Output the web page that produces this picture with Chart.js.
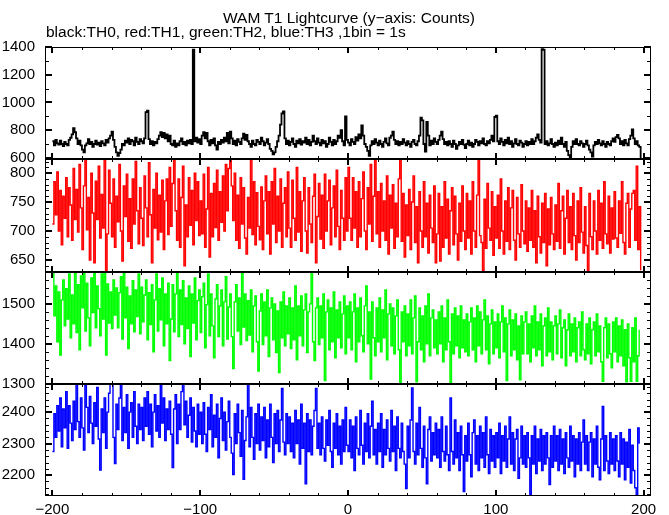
<!DOCTYPE html>
<html>
<head>
<meta charset="utf-8">
<script src="https://cdn.jsdelivr.net/npm/chart.js@4.4.1/dist/chart.umd.min.js"></script>
<style>
  body { margin: 0; background: #fff; }
  #wrap { position: relative; width: 669px; height: 515px; }
  .txt { position: absolute; font-family: "Liberation Sans", Arial, sans-serif; font-size: 15.5px; line-height: 15.5px; white-space: nowrap; color: #000; }
</style>
</head>
<body>
<div id="wrap">
  <canvas id="lightcurve" width="669" height="515"></canvas>
  <div class="txt" style="left:349px; top:10px; transform:translateX(-50%);">WAM T1 Lightcurve (y−axis: Counts)</div>
  <div class="txt" style="left:46px; top:23.5px;">black:TH0, red:TH1, green:TH2, blue:TH3 ,1bin = 1s</div>
</div>
<script>
// 1bin = 1s, first bin at t = -200 s
const binStart = -200;

// counts per bin (rows of 20 bins)
const countsTH0 = [
  720,690,730,705,695,725,700,685,715,700,690,730,745,770,815,785,740,700,725,690, // -200
  660,640,690,705,735,700,715,680,700,725,695,710,685,720,705,690,730,710,740,760, // -180
  790,730,680,640,615,635,660,700,690,725,710,740,700,730,720,690,745,715,700,735, // -160
  720,705,740,930,940,735,700,720,690,715,705,735,760,785,750,780,740,770,720,760, // -140
  700,690,725,680,705,690,720,740,700,715,690,725,705,730,700,1380,720,745,710,735, // -120
  700,760,785,740,780,720,690,730,705,740,690,660,715,700,730,710,745,720,780,705, // -100
  790,740,700,725,690,735,715,700,740,775,730,765,720,700,680,725,700,690,730,715, // -80
  700,745,720,690,710,735,700,665,650,625,640,680,720,760,840,920,935,740,700,725, // -60
  690,715,740,700,680,725,705,735,695,720,710,745,700,730,690,715,760,720,700,740, // -40
  710,690,730,705,720,680,700,745,715,690,730,700,720,760,745,800,720,690,900,730, // -20
  710,690,735,715,700,750,725,770,740,835,760,700,680,650,615,690,720,700,735,710, // 0
  690,725,700,680,715,740,705,690,745,760,790,730,700,720,690,715,700,735,710,690, // 20
  720,700,680,715,730,700,690,720,760,890,870,700,645,860,760,690,725,700,740,715, // 40
  700,730,760,790,735,700,715,690,720,700,680,725,700,665,690,715,700,730,695,670, // 60
  700,725,690,710,680,700,730,715,690,720,705,740,700,690,720,705,730,760,720,895, // 80
  905,720,700,740,715,690,730,705,745,700,720,680,705,735,700,690,725,710,680,700, // 100
  720,690,715,700,735,700,720,745,770,730,710,1385,1380,700,720,690,705,735,700,680, // 120
  710,690,725,700,745,700,680,715,650,620,605,680,720,700,735,700,690,720,705,680, // 140
  700,725,690,660,640,610,690,715,700,730,705,690,720,700,680,715,700,690,720,740, // 160
  715,750,765,740,700,720,690,730,705,690,735,760,805,740,700,720,690,680,598       // 180
];

const countsTH1 = [
  712,785,728,802,700,770,676,760,722,792,690,775,745,684,808,720,772,698,815,740,
  668,778,824,702,758,650,800,731,645,786,720,812,688,763,705,824,632,695,805,748,
  690,790,672,760,716,815,700,648,778,725,798,682,756,670,790,712,820,735,678,775,
  722,675,795,740,690,818,728,645,772,705,800,685,762,698,788,668,752,790,694,810,
  708,782,824,735,684,790,672,758,812,640,745,690,792,710,770,676,800,718,785,692,
  752,695,798,672,738,810,655,765,690,782,706,805,684,768,715,795,700,815,735,808,
  824,778,718,800,684,762,670,792,712,775,688,660,758,705,824,694,785,676,766,708,
  685,776,668,752,795,695,768,660,785,712,808,680,760,700,790,672,748,775,690,802,
  705,672,788,722,684,810,698,768,665,752,792,700,662,775,712,680,760,798,645,725,
  782,686,762,670,798,700,752,788,676,740,778,690,805,708,668,770,722,684,792,700,
  810,722,684,792,705,768,672,785,690,756,802,700,668,775,712,815,682,760,824,695,
  768,672,782,700,752,684,795,660,762,705,780,670,748,690,790,824,682,765,655,745,
  692,772,668,750,795,680,742,645,768,700,672,785,690,748,662,762,705,680,778,645,
  695,765,648,742,672,785,688,755,660,735,775,676,760,695,650,748,682,778,700,668,
  765,688,752,660,785,700,672,762,824,692,680,632,755,670,782,705,684,768,658,742,
  688,762,670,790,700,660,752,682,775,668,740,770,684,650,758,695,672,780,700,678,
  752,665,740,684,770,672,735,645,760,690,662,748,680,765,640,738,676,758,695,668,
  745,682,782,670,735,760,660,722,770,680,742,668,765,692,650,752,680,775,698,662,
  742,675,632,765,690,668,752,700,660,770,684,748,670,785,695,678,760,662,740,686,
  768,688,672,752,696,785,680,660,748,765,672,738,765,770,684,812,668,742,632
];

const countsTH2 = [
  1578,1470,1545,1405,1530,1372,1510,1560,1445,1538,1462,1575,1415,1522,1450,1578,1428,1548,1385,1570,
  1490,1578,1432,1552,1465,1395,1565,1478,1578,1440,1545,1488,1420,1575,1462,1578,1372,1550,1452,1530,
  1438,1560,1472,1540,1440,1528,1568,1412,1578,1465,1542,1388,1520,1450,1558,1430,1535,1468,1575,1425,
  1542,1455,1522,1560,1410,1528,1448,1548,1380,1510,1575,1432,1538,1460,1565,1395,1525,1450,1552,1358,
  1462,1548,1430,1525,1578,1418,1535,1448,1558,1400,1515,1438,1545,1368,1525,1452,1565,1410,1508,1535,
  1428,1518,1552,1390,1498,1575,1420,1525,1445,1365,1512,1548,1418,1495,1535,1395,1505,1568,1412,1492,
  1525,1418,1338,1505,1548,1432,1515,1398,1578,1442,1525,1408,1508,1422,1535,1380,1495,1520,1405,1332,
  1482,1525,1398,1505,1420,1535,1368,1490,1515,1410,1500,1378,1482,1328,1505,1415,1530,1395,1495,1425,
  1515,1388,1490,1410,1545,1360,1495,1420,1520,1395,1485,1525,1378,1480,1500,1578,1405,1358,1490,1515,
  1398,1495,1415,1525,1308,1480,1510,1385,1490,1405,1530,1365,1485,1415,1505,1390,1475,1520,1375,1495,
  1415,1505,1385,1480,1525,1355,1490,1405,1515,1420,1380,1495,1545,1400,1480,1312,1505,1415,1370,1490,
  1405,1515,1380,1485,1415,1535,1360,1475,1500,1395,1490,1375,1470,1510,1385,1302,1480,1405,1495,1370,
  1475,1395,1510,1375,1465,1520,1305,1405,1490,1385,1470,1355,1495,1400,1525,1370,1465,1485,1390,1460,
  1375,1480,1400,1495,1355,1465,1385,1510,1405,1302,1475,1375,1490,1395,1470,1365,1495,1390,1460,1380,
  1475,1370,1455,1490,1385,1465,1355,1495,1395,1480,1375,1460,1510,1385,1470,1350,1450,1485,1375,1455,
  1390,1475,1365,1455,1495,1380,1465,1308,1450,1485,1370,1460,1385,1475,1360,1445,1310,1470,1375,1455,
  1480,1375,1450,1355,1470,1390,1495,1370,1455,1385,1475,1345,1445,1465,1370,1490,1380,1455,1360,1445,
  1470,1375,1450,1485,1365,1440,1460,1345,1435,1475,1370,1450,1380,1465,1355,1440,1455,1370,1480,1385,
  1360,1450,1375,1465,1350,1435,1455,1370,1475,1380,1445,1355,1306,1440,1465,1365,1450,1375,1340,1455,
  1380,1465,1355,1445,1370,1460,1345,1435,1305,1450,1365,1306,1440,1355,1465,1306,1370,1435
];

const countsTH3 = [
  2275,2395,2320,2420,2340,2445,2290,2410,2350,2465,2285,2420,2365,2310,2435,2345,2490,2370,2320,2445,
  2350,2280,2490,2415,2335,2450,2365,2300,2430,2355,2478,2315,2216,2410,2335,2445,2285,2400,2460,2490,
  2490,2320,2237,2425,2345,2445,2490,2310,2415,2335,2455,2285,2400,2430,2320,2465,2355,2300,2425,2345,
  2415,2310,2445,2355,2465,2330,2425,2290,2400,2455,2340,2420,2320,2490,2365,2445,2310,2410,2345,2435,
  2330,2224,2410,2455,2300,2425,2345,2465,2490,2360,2435,2320,2390,2445,2305,2415,2340,2290,2425,2330,
  2400,2300,2430,2330,2275,2415,2345,2455,2290,2390,2320,2425,2255,2380,2445,2310,2400,2280,2370,2435,
  2320,2270,2202,2395,2300,2425,2335,2260,2405,2187,2310,2385,2490,2290,2415,2320,2250,2395,2300,2425,
  2280,2385,2310,2415,2255,2375,2290,2425,2320,2240,2395,2300,2405,2275,2375,2475,2305,2265,2395,2300,
  2385,2275,2365,2255,2405,2300,2375,2235,2425,2285,2365,2173,2395,2275,2375,2265,2355,2405,2475,2285,
  2365,2265,2385,2285,2245,2375,2295,2405,2275,2225,2365,2285,2395,2265,2355,2235,2375,2275,2415,2295,
  2275,2375,2255,2355,2215,2385,2285,2265,2405,2295,2235,2365,2275,2395,2255,2355,2435,2265,2345,2235,
  2365,2275,2395,2225,2345,2265,2375,2285,2245,2405,2275,2355,2215,2385,2285,2255,2365,2275,2235,2158,
  2355,2255,2375,2477,2275,2235,2365,2265,2415,2285,2225,2355,2255,2173,2345,2385,2245,2335,2265,2365,
  2255,2345,2225,2385,2275,2245,2355,2265,2215,2445,2275,2235,2375,2255,2335,2215,2355,2265,2148,2325,
  2245,2365,2265,2195,2335,2375,2235,2325,2215,2355,2255,2335,2225,2385,2265,2205,2345,2245,2325,2225,
  2335,2255,2365,2205,2325,2245,2355,2225,2315,2385,2235,2335,2215,2315,2345,2190,2255,2355,2235,2325,
  2225,2335,2255,2138,2325,2235,2355,2205,2315,2245,2345,2215,2325,2235,2335,2255,2170,2325,2225,2355,
  2245,2325,2215,2345,2235,2315,2205,2335,2255,2225,2355,2245,2325,2195,2315,2235,2335,2215,2305,2375,
  2235,2325,2215,2305,2335,2195,2315,2235,2355,2225,2185,2315,2418,2215,2325,2245,2205,2335,2235,2315,
  2215,2325,2245,2195,2335,2235,2315,2185,2305,2225,2345,2175,2295,2215,2160,2138,2350,2300
];

// tick labels
const xTicks = [-200, -100, 0, 100, 200];
const yTicksTH0 = [600, 800, 1000, 1200, 1400];
const yTicksTH1 = [650, 700, 750, 800];
const yTicksTH2 = [1300, 1400, 1500];
const yTicksTH3 = [2200, 2300, 2400];

// one panel per energy band, top to bottom
const panels = [
  { id: 'y0', label: 'TH0', counts: countsTH0, color: '#000000', width: 1.8, min: 590,  max: 1400, ticks: yTicksTH0, minor: 100 },
  { id: 'y1', label: 'TH1', counts: countsTH1, color: '#ff0000', width: 1.4, min: 630,  max: 824,  ticks: yTicksTH1, minor: 10 },
  { id: 'y2', label: 'TH2', counts: countsTH2, color: '#00ff00', width: 1.4, min: 1300, max: 1581, ticks: yTicksTH2, minor: 20 },
  { id: 'y3', label: 'TH3', counts: countsTH3, color: '#0000ff', width: 1.4, min: 2134, max: 2490, ticks: yTicksTH3, minor: 20 }
];
const xMinor = 20;

const tickFont = { family: '"Liberation Sans", Arial, sans-serif', size: 15 };
const fmt = (v) => v < 0 ? '\u2212' + Math.abs(v) : String(v);
const noGrid = { display: false, drawTicks: false };

const scales = {
  x: {
    type: 'linear', min: -205, max: 205,
    grid: noGrid, border: { display: false },
    afterBuildTicks: (s) => { s.ticks = xTicks.map(v => ({ value: v })); },
    afterFit: (s) => { s.height = 19; },
    ticks: { padding: 5, font: tickFont, color: '#000', autoSkip: false, maxRotation: 0, callback: fmt }
  }
};
// stacked left axes: last defined ends up on top, so add bottom panel first
[...panels].reverse().forEach(p => {
  scales[p.id] = {
    type: 'linear', position: 'left', stack: 'lc', stackWeight: 1,
    min: p.min, max: p.max,
    grid: noGrid, border: { display: false },
    afterBuildTicks: (s) => { s.ticks = p.ticks.map(v => ({ value: v })); },
    afterFit: (s) => { s.width = 45; },
    ticks: { padding: 10, font: tickFont, color: '#000', autoSkip: false, callback: (v) => String(v) }
  };
});

const datasets = panels.map(p => ({
  label: p.label,
  yAxisID: p.id,
  data: p.counts.map((c, i) => ({ x: binStart + i, y: c })),
  borderColor: p.color,
  borderWidth: p.width,
  stepped: true,
  pointRadius: 0,
  fill: false
}));

// frame, separators and inward tick marks for every panel
const panelFrame = {
  id: 'panelFrame',
  afterDatasetsDraw(chart) {
    const ctx = chart.ctx;
    const { left, right } = chart.chartArea;
    const xs = chart.scales.x;
    const line = (x1, y1, x2, y2) => { ctx.beginPath(); ctx.moveTo(x1, y1); ctx.lineTo(x2, y2); ctx.stroke(); };
    ctx.save();
    ctx.strokeStyle = '#000';
    panels.forEach((p, k) => {
      const ys = chart.scales[p.id];
      const top = Math.round(ys.top), bottom = Math.round(ys.bottom);
      ctx.lineWidth = 1;
      ctx.strokeRect(left + 0.5, top + 0.5, right - left - 1, bottom - top - 1);
      if (k > 0) {
        ctx.lineWidth = 2;
        line(left, top, right, top);
      }
      for (let v = xTicks[0]; v <= xTicks[xTicks.length - 1]; v += xMinor) {
        const major = xTicks.includes(v);
        const len = major ? 6 : 3;
        ctx.lineWidth = major ? 2 : 1;
        const px = Math.round(xs.getPixelForValue(v)) + (major ? 0 : 0.5);
        line(px, top, px, top + len);
        line(px, bottom, px, bottom - len);
      }
      for (let v = Math.ceil(p.min / p.minor) * p.minor; v <= p.max; v += p.minor) {
        const major = p.ticks.includes(v);
        const len = major ? 7 : 4;
        ctx.lineWidth = major ? 2 : 1;
        const py = Math.round(ys.getPixelForValue(v)) + (major ? 0 : 0.5);
        line(left, py, left + len, py);
        line(right, py, right - len, py);
      }
    });
    ctx.restore();
  }
};

new Chart(document.getElementById('lightcurve'), {
  type: 'line',
  data: { datasets },
  options: {
    responsive: false,
    devicePixelRatio: 1,
    animation: false,
    events: [],
    layout: { padding: { top: 47, right: 18, left: 0, bottom: 0 } },
    plugins: { legend: { display: false }, tooltip: { enabled: false } },
    scales
  },
  plugins: [panelFrame]
});
</script>
</body>
</html>
